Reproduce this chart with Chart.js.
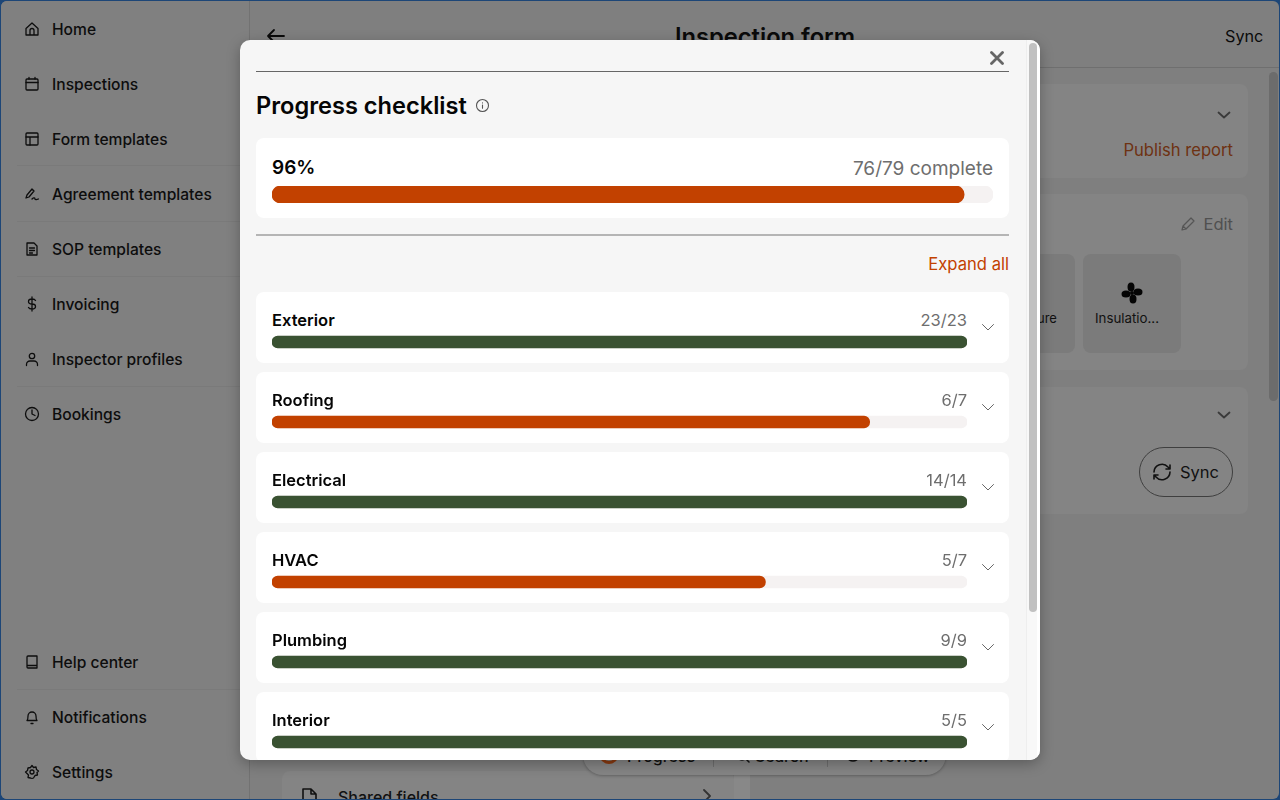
<!DOCTYPE html>
<html><head><meta charset="utf-8"><title>Progress checklist</title>
<script src="https://cdn.jsdelivr.net/npm/chart.js@4"></script>
<style>
*{box-sizing:border-box}
html,body{margin:0;padding:0;width:1280px;height:800px;overflow:hidden;background:#1d4677;font-family:Inter,sans-serif;-webkit-font-smoothing:antialiased}
.abs,.abs *{position:absolute}
#page{position:absolute;left:1px;top:1px;width:1278px;height:798px;background:#7f7f7f;border-radius:6px;overflow:hidden}
.t{white-space:nowrap;line-height:20px}
.nav{left:51px;font-size:15.6px;font-weight:500;color:#0d0d0d}
.line{background:#757575;height:1px}
.bg{background:#848484;border-radius:8px}
svg{fill:none;stroke-linecap:round;stroke-linejoin:round}
#modal{position:absolute;left:240px;top:40px;width:800px;height:720px;background:#f6f6f6;border-radius:10px;overflow:hidden;box-shadow:0 4px 14px rgba(0,0,0,.28)}
.card{position:absolute;left:16px;width:753px;background:#fff;border-radius:8px}
canvas{position:absolute;display:block}
</style></head>
<body>
<div id="page" class="abs">
  <div style="left:0;top:0;width:249px;height:798px;background:#808080"></div>
  <div style="left:248px;top:0;width:1px;height:798px;background:#727272"></div>
  <div id="sidebar"></div>
  <div style="left:249px;top:66px;width:1029px;height:1px;background:#6f6f6f"></div>
  <svg style="left:265px;top:26px" width="20" height="18" viewBox="0 0 20 18" stroke="#0a0a0a" stroke-width="1.8"><path d="M2 9h16M8 3L2 9l6 6"/></svg>
  <div class="t" style="left:514px;top:21px;width:500px;text-align:center;font-size:23.7px;font-weight:600;line-height:30px;color:#0a0a0a">Inspection form</div>
  <div class="t" style="left:1224px;top:25px;font-size:16.2px;color:#0a0a0a">Sync</div>
  <div style="left:1268px;top:71px;width:9px;height:329px;background:#6c6c6c;border-radius:5px"></div>

  <div class="bg" style="left:1030px;top:83px;width:217px;height:94px"></div>
  <svg style="left:1216px;top:108px" width="14" height="12" viewBox="0 0 14 12" stroke="#3a3a3a" stroke-width="1.8"><path d="M1.500 3.500L7 8.500l5.500-5"/></svg>
  <div class="t" style="right:46px;top:139px;font-size:16.6px;font-weight:400;color:#6e3212">Publish report</div>

  <div class="bg" style="left:1030px;top:193px;width:217px;height:176px"></div>
  <svg style="left:1179px;top:215px" width="16" height="16" viewBox="0 0 16 16" stroke="#555" stroke-width="1.2"><path d="M2 14l1-4 8-8 3 3-8 8zM3 10l3 3"/></svg>
  <div class="t" style="right:46px;top:213px;font-size:16.5px;color:#505050">Edit</div>
  <div style="left:1030px;top:253px;width:44px;height:99px;background:#7b7b7b;border-radius:0 8px 8px 0"></div>
  <div class="t" style="left:1036px;top:307px;font-size:13px;color:#111">ure</div>
  <div style="left:1082px;top:253px;width:98px;height:99px;background:#7b7b7b;border-radius:8px"></div>
  <svg style="left:1120px;top:281px" width="22" height="22" viewBox="0 0 22 22"><g fill="#050505" stroke="none"><circle cx="11" cy="11" r="2"/><ellipse cx="10" cy="5" rx="3.500" ry="4.500"/><ellipse cx="17" cy="10" rx="4.500" ry="3.500"/><ellipse cx="12" cy="17" rx="3.500" ry="4.500"/><ellipse cx="5" cy="12" rx="4.500" ry="3.500"/></g></svg>
  <div class="t" style="left:1094px;top:307px;font-size:13.3px;color:#111">Insulatio...</div>

  <div class="bg" style="left:1030px;top:386px;width:217px;height:127px"></div>
  <svg style="left:1216px;top:408px" width="14" height="12" viewBox="0 0 14 12" stroke="#3a3a3a" stroke-width="1.8"><path d="M1.500 3.500L7 8.500l5.500-5"/></svg>
  <div style="left:1138px;top:446px;width:94px;height:50px;border:1.5px solid #3f3f3f;border-radius:25px"></div>
  <svg style="left:1151px;top:461px" width="20" height="20" viewBox="0 0 20 20" stroke="#111" stroke-width="1.6"><path d="M2 10a8 8 0 0 1 14-5l2 2M18 10a8 8 0 0 1-14 5l-2-2M18 3v4h-4M2 17v-4h4"/></svg>
  <div class="t" style="left:1179px;top:461px;font-size:16.5px;font-weight:400;color:#111">Sync</div>

  <div style="left:281px;top:770px;width:452px;height:40px;background:#848484;border-radius:8px"></div>
  <svg style="left:299px;top:786px" width="18" height="20" viewBox="0 0 18 20" stroke="#111" stroke-width="1.600"><path d="M3 2h8l5 5v12H3zM11 2v5h5"/></svg>
  <div class="t" style="left:337px;top:786px;font-size:16px;font-weight:500;color:#111">Shared fields</div>
  <svg style="left:700px;top:788px" width="12" height="14" viewBox="0 0 12 14" stroke="#333" stroke-width="1.800"><path d="M3 1l6 6-6 6"/></svg>
  <div style="left:733px;top:770px;width:16px;height:30px;background:#888"></div>
  <div style="left:582px;top:720px;width:363px;height:54px;background:#858585;border-radius:20px;box-shadow:0 1px 3px rgba(0,0,0,.25)"></div>
  <div style="left:712px;top:740px;width:1px;height:26px;background:#6e6e6e"></div>
  <div style="left:826px;top:740px;width:1px;height:26px;background:#6e6e6e"></div>
  <div class="t" style="left:626px;top:745px;font-size:16px;font-weight:500;color:#111">Progress</div>
  <svg style="left:735px;top:748px" width="14" height="14" viewBox="0 0 14 14" stroke="#111" stroke-width="1.500"><circle cx="6" cy="6" r="5"/><path d="M10 10l3 3"/></svg>
  <div class="t" style="left:754px;top:745px;font-size:16px;font-weight:500;color:#111">Search</div>
  <svg style="left:844px;top:748px" width="16" height="14" viewBox="0 0 16 14" stroke="#111" stroke-width="1.500"><path d="M1 7s3-5 7-5 7 5 7 5-3 5-7 5-7-5-7-5z"/><circle cx="8" cy="7" r="2"/></svg>
  <div class="t" style="left:868px;top:745px;font-size:16px;font-weight:500;color:#111">Preview</div>
  <div style="left:598px;top:743px;width:20px;height:20px;border:3px solid #8a3a10;border-radius:50%"></div>
</div>

<div id="modal" class="abs">
  <div style="left:16px;top:31px;width:753px;height:1px;background:#666"></div>
  <svg style="left:750px;top:11px" width="14" height="14" viewBox="0 0 14 14" stroke="#666" stroke-width="2.800"><path d="M1.500 1.500l11 11M12.500 1.500l-11 11"/></svg>
  <div class="t" id="title" style="left:16px;top:51px;font-size:23.6px;line-height:30px;font-weight:600;color:#050505">Progress checklist</div>
  <svg style="left:235px;top:58px" width="15" height="15" viewBox="0 0 15 15" stroke="#555" stroke-width="1.100"><circle cx="7.500" cy="7.500" r="6"/><path d="M7.500 7v3.200M7.500 4.800v.1"/></svg>
  <div class="card" style="top:98px;height:80px"></div>
  <div class="t" style="left:32px;top:116px;font-size:19px;line-height:24px;font-weight:600;color:#050505" id="pct"></div>
  <div class="t" style="right:47px;top:117px;font-size:19px;line-height:24px;color:#6e6e6e" id="overallText"></div>
  <canvas id="overallChart" style="left:32px;top:146px" width="721" height="17"></canvas>
  <div style="left:16px;top:194px;width:753px;height:2px;background:#b5b5b5"></div>
  <div class="t" style="right:31px;top:214px;font-size:16.6px;font-weight:400;color:#c24100">Expand all</div>
  <div id="cards" style="left:0;top:0;width:800px;height:720px"></div>
  <canvas id="sectionChart" style="left:32px;top:262px" width="695" height="480"></canvas>
  <div style="left:786px;top:0;width:13px;height:720px;background:#f8f8f8;border-left:1px solid #eee"></div>
  <div style="left:789px;top:3px;width:8px;height:569px;background:#c1c1c1;border-radius:4px"></div>
  <div style="left:797px;top:0;width:3px;height:720px;background:#fff"></div>
</div>

<script>
const navTop = ["Home","Inspections","Form templates","Agreement templates","SOP templates","Invoicing","Inspector profiles","Bookings"];
const navBottom = ["Help center","Notifications","Settings"];
const sectionNames = ["Exterior","Roofing","Electrical","HVAC","Plumbing","Interior"];
const sectionCounts = ["23/23","6/7","14/14","5/7","9/9","5/5"];
const sectionPercent = [100,86,100,71,100,100];
const overallLabels = ["Overall"];
const overallPercent = [96];
const overallCount = "76/79 complete";
const trackPercent = 100;
const ORANGE = "#c24100", GREEN = "#3a5232", TRACK = "#f5f2f2";

const icons = {
 "Home":'<path d="M2 7.500L8 2l6 5.500V14H2zM6 14V9.500a2 2 0 0 1 4 0V14"/>',
 "Inspections":'<rect x="2" y="3" width="12" height="11" rx="1"/><path d="M2 6.500h12M5 1.500V3M11 1.500V3"/>',
 "Form templates":'<rect x="2" y="2" width="12" height="12" rx="1"/><path d="M2 6h12M6 6v8"/>',
 "Agreement templates":'<path d="M2 12l1-3 5-6 2 2-5 6zM8 13c2-2 3-1 3 0s2 .5 3.500 0"/>',
 "SOP templates":'<path d="M3 2h7l3 3v9H3zM5.500 7h5M5.500 9.500h5M5.500 12h3"/>',
 "Invoicing":'<path d="M11.500 4.500C11 3.500 10 3 8 3S4.500 4 4.500 5.500 6 8 8 8s3.500 1 3.500 2.500S10 13 8 13s-3-.5-3.500-1.500M8 1v14"/>',
 "Inspector profiles":'<circle cx="8" cy="5" r="2.700"/><path d="M2.500 14.500v-1A3.500 3.500 0 0 1 6 10h4a3.500 3.500 0 0 1 3.500 3.500v1"/>',
 "Bookings":'<circle cx="8" cy="8" r="6.500"/><path d="M8 4v4l3 1.500"/>',
 "Help center":'<path d="M3 13V3a1 1 0 0 1 1-1h9v12H4a1 1 0 0 1-1-1zM3 11.500h10"/>',
 "Notifications":'<path d="M3 11.500c1-1 1-2.500 1-4.500a4 4 0 0 1 8 0c0 2 0 3.500 1 4.500zM7 14.500h2"/>',
 "Settings":'<circle cx="8" cy="8" r="2"/><path d="M8 1.500l1.500 2 2.500-.5.500 2.500 2 1.500-1.500 1.500.5 2.500-2.500.5L9.500 14 8 14.500 6.500 14 4 13.500l.5-2.500L3 9.500l-1.500-1.500L3.500 6.500 4 4l2.500-.5z"/>'
};
const sidebar = document.getElementById("sidebar");
function addNav(name, cy){
  sidebar.insertAdjacentHTML("beforeend",
   `<svg style="left:23px;top:${cy-9}px" width="16" height="16" viewBox="0 0 16 16" stroke="#0d0d0d" stroke-width="1.300">${icons[name]}</svg>
    <div class="t nav" style="top:${cy-10}px">${name}</div>`);
}
navTop.forEach((n,i)=>addNav(n, 29+55*i));
navBottom.forEach((n,i)=>addNav(n, 662+55*i));
[164,220,275,385,688].forEach(y=>sidebar.insertAdjacentHTML("beforeend",`<div class="line" style="left:16px;top:${y}px;width:232px;background:#7a7a7a"></div>`));

document.getElementById("pct").textContent = overallPercent[0]+"%";
document.getElementById("overallText").textContent = overallCount;

const cards = document.getElementById("cards");
sectionNames.forEach((n,i)=>{
  const top = 252+80*i;
  cards.insertAdjacentHTML("beforeend",
   `<div class="card" style="top:${top}px;height:71px"></div>
    <div class="t" style="left:32px;top:${top+18}px;font-size:16.5px;font-weight:600;color:#050505">${n}</div>
    <div class="t" style="right:73px;top:${top+18}px;font-size:16.5px;color:#6e6e6e">${sectionCounts[i]}</div>
    <svg style="left:741px;top:${top+31}px" width="14" height="9" viewBox="0 0 14 9" stroke="#666" stroke-width="1"><path d="M1.500 1.500L7 7l5.500-5.500"/></svg>`);
});

function progressChart(id, labels, pct, colors, thickness){
  new Chart(document.getElementById(id), {
    type:"bar",
    data:{labels, datasets:[
      {label:"Complete", data:pct, backgroundColor:colors, order:1, grouped:false, barThickness:thickness, borderRadius:9, borderSkipped:false},
      {label:"Total", data:pct.map(()=>trackPercent), backgroundColor:TRACK, order:2, grouped:false, barThickness:thickness, borderRadius:9, borderSkipped:false}
    ]},
    options:{
      indexAxis:"y", responsive:false, animation:false, devicePixelRatio:1,
      layout:{padding:0},
      plugins:{legend:{display:false},tooltip:{enabled:false}},
      scales:{
        x:{display:false,min:0,max:100,grid:{display:false}},
        y:{display:false,offset:true,grid:{display:false}}
      }
    }
  });
}
progressChart("overallChart", overallLabels, overallPercent, [ORANGE], 17);
progressChart("sectionChart", sectionNames, sectionPercent,
  sectionPercent.map(p=>p===100?GREEN:ORANGE), 12);
</script>
</body></html>
